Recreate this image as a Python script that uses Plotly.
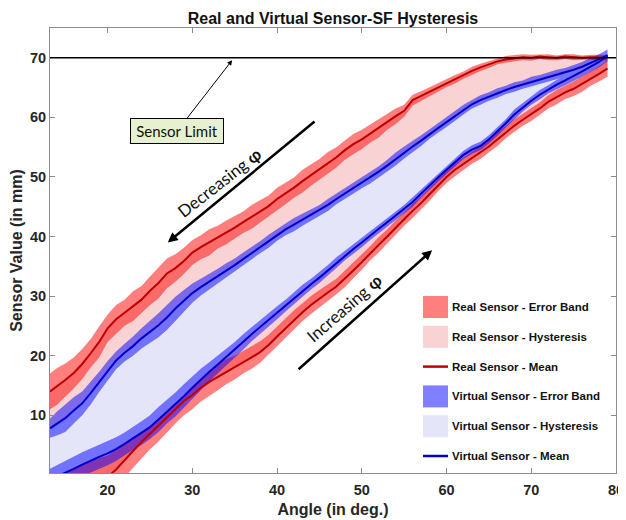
import plotly.graph_objects as go

# ---------------- data ----------------
ANGLE = [13.2] + [float(a) for a in range(14, 80)]

REAL_DEC_MEAN = [14.0, 14.8, 15.9, 17.1, 18.6, 20.4, 22.3, 24.6, 26.1, 27.2,
                 28.3, 29.4, 30.9, 32.2, 33.8, 34.7, 35.9, 37.3, 38.2, 39.0,
                 39.9, 40.7, 41.5, 42.4, 43.3, 44.2, 45.1, 46.3, 47.2, 48.2,
                 49.3, 50.3, 51.3, 52.4, 53.3, 54.5, 55.5, 56.3, 57.3, 58.2,
                 59.3, 60.2, 61.1, 62.9, 63.6, 64.3, 65.0, 65.8, 66.4, 67.1,
                 67.8, 68.4, 68.9, 69.4, 69.7, 69.9, 70.1, 70.0, 70.2, 70.1,
                 70.0, 70.2, 70.1, 70.0, 70.1, 70.0, 70.0]
REAL_DEC_ERR = [3.0, 3.1, 2.8, 2.6, 2.5, 2.4, 2.6, 2.3, 2.4, 2.2,
                2.5, 2.3, 2.4, 2.6, 2.5, 2.3, 2.2, 2.1, 2.0, 2.2,
                1.9, 2.0, 1.9, 1.8, 2.0, 1.9, 1.8, 1.9, 1.8, 1.7,
                1.9, 1.8, 1.7, 1.8, 1.7, 1.6, 1.7, 1.6, 1.5, 1.6,
                1.4, 1.3, 1.0, 0.9, 0.8, 0.8, 0.7, 0.7, 0.7, 0.6,
                0.7, 0.6, 0.6, 0.5, 0.6, 0.5, 0.5, 0.5, 0.4, 0.5,
                0.4, 0.4, 0.5, 0.4, 0.4, 0.5, 0.5]

REAL_INC_MEAN = [-4.0, -3.7, -3.3, -2.9, -2.4, -1.9, -1.2, -0.4, 0.9, 2.5,
                 4.0, 5.5, 6.9, 8.2, 9.6, 11.1, 12.4, 13.4, 14.6, 15.6,
                 16.4, 17.3, 18.0, 18.9, 19.7, 20.6, 21.8, 23.2, 24.6, 26.0,
                 27.3, 28.5, 29.6, 30.6, 31.6, 32.9, 34.3, 35.7, 37.2, 38.6,
                 40.0, 41.5, 42.9, 44.3, 45.6, 47.1, 48.6, 50.0, 51.2, 52.2,
                 53.2, 54.1, 55.1, 56.3, 57.5, 58.6, 59.6, 60.5, 61.5, 62.6,
                 63.4, 64.2, 64.8, 65.6, 66.5, 67.3, 68.2]
REAL_INC_ERR = [5.2, 5.0, 4.8, 4.6, 4.4, 4.3, 4.0, 3.6, 3.3, 3.0,
                2.8, 2.7, 2.6, 2.6, 2.5, 2.5, 2.4, 2.4, 2.3, 2.3,
                2.2, 2.1, 2.0, 1.9, 1.9, 1.8, 1.7, 1.7, 1.6, 1.6,
                1.5, 1.5, 1.4, 1.4, 1.3, 1.4, 1.3, 1.3, 1.2, 1.3,
                1.2, 1.2, 1.1, 1.2, 1.1, 1.1, 1.0, 1.0, 1.1, 1.0,
                1.0, 1.1, 1.0, 1.1, 1.0, 1.1, 1.0, 1.1, 1.0, 1.1,
                1.2, 1.1, 1.2, 1.3, 1.2, 1.3, 1.4]

VIRT_DEC_MEAN = [7.8, 8.6, 9.5, 10.8, 12.0, 13.7, 15.6, 17.5, 19.2, 20.5,
                 21.6, 22.9, 24.0, 25.1, 26.4, 27.9, 29.2, 30.5, 31.5, 32.4,
                 33.4, 34.3, 35.2, 36.2, 37.2, 38.2, 39.2, 40.3, 41.2, 42.0,
                 42.8, 43.6, 44.4, 45.3, 46.3, 47.2, 48.1, 49.0, 49.9, 50.9,
                 51.9, 53.0, 54.1, 55.1, 56.1, 57.2, 58.2, 59.2, 60.2, 61.3,
                 62.2, 62.9, 63.5, 64.1, 64.6, 65.1, 65.5, 66.0, 66.4, 66.8,
                 67.2, 67.6, 68.0, 68.5, 69.1, 69.7, 70.4]
VIRT_DEC_ERR = [1.6, 2.0, 2.3, 2.2, 2.0, 1.9, 1.7, 1.6, 1.5, 1.5,
                1.6, 1.7, 1.8, 2.0, 2.1, 2.0, 1.8, 1.6, 1.4, 1.3,
                1.2, 1.2, 1.1, 1.1, 1.0, 1.0, 1.1, 1.0, 1.0, 1.1,
                1.0, 1.0, 0.9, 1.0, 0.9, 1.0, 0.9, 0.9, 1.0, 0.9,
                1.0, 1.1, 1.0, 0.9, 0.9, 0.8, 0.8, 0.8, 0.8, 0.8,
                0.7, 0.8, 0.7, 0.8, 0.7, 0.8, 0.7, 0.8, 0.7, 0.8,
                0.8, 0.7, 0.8, 0.8, 0.9, 0.9, 1.0]

VIRT_INC_MEAN = [-0.8, -0.3, 0.3, 1.0, 1.7, 2.4, 3.0, 3.6, 4.3, 5.2,
                 6.1, 7.0, 8.0, 9.3, 10.6, 11.8, 13.2, 14.6, 16.0, 17.3,
                 18.5, 19.8, 21.0, 22.3, 23.6, 24.8, 26.0, 27.2, 28.4, 29.7,
                 30.9, 32.0, 33.1, 34.3, 35.6, 36.8, 37.9, 39.0, 40.2, 41.3,
                 42.4, 43.5, 44.6, 45.8, 47.2, 48.6, 49.9, 51.2, 52.5, 53.7,
                 54.6, 55.2, 56.3, 57.6, 59.0, 60.5, 61.7, 62.8, 63.8, 64.7,
                 65.5, 66.2, 66.9, 67.7, 68.5, 69.3, 70.4]
VIRT_INC_ERR = [1.8, 1.9, 2.0, 2.0, 2.1, 2.0, 2.0, 2.0, 2.0, 1.9,
                1.9, 2.0, 2.0, 2.1, 2.0, 2.0, 2.0, 1.9, 1.8, 1.6,
                1.5, 1.4, 1.3, 1.3, 1.2, 1.2, 1.1, 1.1, 1.0, 1.0,
                1.0, 0.9, 0.9, 0.9, 0.9, 0.8, 0.8, 0.8, 0.8, 0.8,
                0.8, 0.8, 0.7, 0.8, 0.7, 0.7, 0.7, 0.7, 0.7, 0.7,
                0.7, 0.7, 0.7, 0.7, 0.7, 0.8, 0.7, 0.7, 0.8, 0.7,
                0.8, 0.8, 0.8, 0.8, 0.9, 0.9, 1.0]

SENSOR_LIMIT = 70
X_TICKS = [20, 30, 40, 50, 60, 70, 80]
Y_TICKS = [10, 20, 30, 40, 50, 60, 70]
X_RANGE = [13.2, 80]
Y_RANGE = [0.3, 75]

LEGEND_LABELS = ["Real Sensor - Error Band", "Real Sensor - Hysteresis",
                 "Real Sensor - Mean", "Virtual Sensor - Error Band",
                 "Virtual Sensor - Hysteresis", "Virtual Sensor - Mean"]

# ---------------- styles ----------------
REAL_BAND = "rgba(255,0,0,0.5)"
REAL_HYST = "#F9D2D3"
REAL_LINE = "#BC0000"
VIRT_BAND = "rgba(0,0,255,0.5)"
VIRT_HYST = "#E4E5F8"
VIRT_LINE = "#0000CC"


def band_polygon(x, mean, err):
    lo = [m - e for m, e in zip(mean, err)]
    hi = [m + e for m, e in zip(mean, err)]
    return list(x) + list(x[::-1]), hi + lo[::-1]


def between_polygon(x, upper, lower):
    return list(x) + list(x[::-1]), list(upper) + list(lower[::-1])


def join(a, b):
    return list(a) + [None] + list(b)


fig = go.Figure()

hx, hy = between_polygon(ANGLE, REAL_DEC_MEAN, REAL_INC_MEAN)
fig.add_trace(go.Scatter(x=hx, y=hy, fill="toself", fillcolor=REAL_HYST,
                         mode="lines", line=dict(width=0, color=REAL_HYST),
                         name=LEGEND_LABELS[1], hoverinfo="skip"))
b1x, b1y = band_polygon(ANGLE, REAL_DEC_MEAN, REAL_DEC_ERR)
b2x, b2y = band_polygon(ANGLE, REAL_INC_MEAN, REAL_INC_ERR)
fig.add_trace(go.Scatter(x=join(b1x, b2x), y=join(b1y, b2y), fill="toself",
                         fillcolor=REAL_BAND, mode="lines",
                         line=dict(width=0, color=REAL_BAND),
                         name=LEGEND_LABELS[0], hoverinfo="skip"))
vx, vy = between_polygon(ANGLE, VIRT_DEC_MEAN, VIRT_INC_MEAN)
fig.add_trace(go.Scatter(x=vx, y=vy, fill="toself", fillcolor=VIRT_HYST,
                         mode="lines", line=dict(width=0, color=VIRT_HYST),
                         name=LEGEND_LABELS[4], hoverinfo="skip"))
c1x, c1y = band_polygon(ANGLE, VIRT_DEC_MEAN, VIRT_DEC_ERR)
c2x, c2y = band_polygon(ANGLE, VIRT_INC_MEAN, VIRT_INC_ERR)
fig.add_trace(go.Scatter(x=join(c1x, c2x), y=join(c1y, c2y), fill="toself",
                         fillcolor=VIRT_BAND, mode="lines",
                         line=dict(width=0, color=VIRT_BAND),
                         name=LEGEND_LABELS[3], hoverinfo="skip"))
fig.add_trace(go.Scatter(x=join(ANGLE, ANGLE), y=join(REAL_DEC_MEAN, REAL_INC_MEAN),
                         mode="lines", line=dict(width=2, color=REAL_LINE),
                         name=LEGEND_LABELS[2]))
fig.add_trace(go.Scatter(x=join(ANGLE, ANGLE), y=join(VIRT_DEC_MEAN, VIRT_INC_MEAN),
                         mode="lines", line=dict(width=2, color=VIRT_LINE),
                         name=LEGEND_LABELS[5]))

# sensor limit line
fig.add_shape(type="line", xref="paper", x0=0, x1=1, yref="y",
              y0=SENSOR_LIMIT, y1=SENSOR_LIMIT,
              line=dict(color="black", width=1.5), layer="above")

ann_font = dict(family="Lato", color="#111111")
fig.add_annotation(x=34.7, y=69.6, ax=28.2, ay=57.7, axref="x", ayref="y",
                   xref="x", yref="y", text="Sensor Limit", showarrow=True,
                   arrowhead=2, arrowsize=1, arrowwidth=1, arrowcolor="black",
                   bgcolor="#E6F2CF", bordercolor="black", borderwidth=1,
                   borderpad=3, width=86, height=18,
                   font=dict(size=15, **ann_font))
fig.add_annotation(x=27.1, y=39.0, ax=44.6, ay=59.5, axref="x", ayref="y",
                   xref="x", yref="y", text="", showarrow=True,
                   arrowhead=2, arrowsize=0.8, arrowwidth=2.5, arrowcolor="black")
fig.add_annotation(x=33.15, y=49.1, xref="x", yref="y",
                   text="Decreasing <b>φ</b>", showarrow=False, textangle=-38,
                   font=dict(size=17, **ann_font))
fig.add_annotation(x=58.3, y=37.7, ax=42.36, ay=17.5, axref="x", ayref="y",
                   xref="x", yref="y", text="", showarrow=True,
                   arrowhead=2, arrowsize=0.8, arrowwidth=2.5, arrowcolor="black")
fig.add_annotation(x=48.0, y=28.0, xref="x", yref="y",
                   text="Increasing <b>φ</b>", showarrow=False, textangle=-41,
                   font=dict(size=17, **ann_font))

# ---------------- legend (drawn inside the axes, MATLAB style) ----------------
PLOT_L, PLOT_R, PLOT_T, PLOT_B = 50, 616, 28, 473   # plot area in window px
def px_x(p):
    return (p - PLOT_L) / (PLOT_R - PLOT_L)
def px_y(p):
    return (PLOT_B - p) / (PLOT_B - PLOT_T)

legend_swatches = [("rect", REAL_BAND), ("rect", REAL_HYST), ("line", REAL_LINE),
                   ("rect", VIRT_BAND), ("rect", VIRT_HYST), ("line", VIRT_LINE)]
for i, (label, (kind, col)) in enumerate(zip(LEGEND_LABELS, legend_swatches)):
    cy = 307 + i * 29.8
    if kind == "rect":
        fig.add_shape(type="rect", xref="paper", yref="paper",
                      x0=px_x(423), x1=px_x(448), y0=px_y(cy + 11), y1=px_y(cy - 11),
                      fillcolor=col, line=dict(width=0), layer="above")
    else:
        fig.add_shape(type="line", xref="paper", yref="paper",
                      x0=px_x(423), x1=px_x(448), y0=px_y(cy), y1=px_y(cy),
                      line=dict(color=col, width=2.5), layer="above")
    fig.add_annotation(x=px_x(450), y=px_y(cy), xref="paper", yref="paper",
                       xanchor="left", yanchor="middle", text=label, showarrow=False,
                       font=dict(family="Liberation Sans", size=11.5, weight="bold",
                                 color="#111111"))

axis_common = dict(showline=True, linecolor="#8c8c8c", linewidth=1, mirror="ticks",
                   ticks="inside", ticklen=5, tickcolor="#8c8c8c", showgrid=False,
                   zeroline=False, automargin=False,
                   tickfont=dict(family="Liberation Sans", size=14.5, weight="bold",
                                 color="#262626"))

# the page places the figure 8px in from the window corner, margins compensate
fig.update_layout(
    width=626, height=520,
    margin=dict(l=42, r=18, t=20, b=55),
    paper_bgcolor="white", plot_bgcolor="white",
    showlegend=False,
    title=dict(text="Real and Virtual Sensor-SF Hysteresis", x=0.5, xref="paper",
               y=1 - 10 / 520, yref="container", yanchor="middle",
               font=dict(family="Liberation Sans", size=16, weight="bold",
                         color="#111111")),
    xaxis=dict(range=X_RANGE, tickvals=X_TICKS, ticklabelstandoff=4,
               title=dict(text="Angle (in deg.)", standoff=6,
                          font=dict(family="Liberation Sans", size=16,
                                    weight="bold", color="#262626")),
               **axis_common),
    yaxis=dict(range=Y_RANGE, tickvals=Y_TICKS,
               title=dict(text="Sensor Value (in mm)", standoff=4,
                          font=dict(family="Liberation Sans", size=16,
                                    weight="bold", color="#262626")),
               **axis_common),
)

fig.write_html("out.html")
